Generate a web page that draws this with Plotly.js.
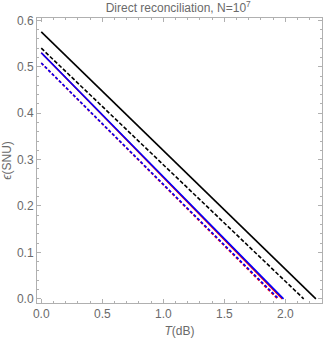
<!DOCTYPE html>
<html><head><meta charset="utf-8">
<script src="https://cdn.plot.ly/plotly-3.0.1.min.js"></script>
<style>html,body{margin:0;padding:0;background:#fff}</style>
</head><body>
<div id="plot" style="width:324px;height:338px"></div>
<script>
// T (dB) values and epsilon (SNU) for each curve
const tBlackSolid = [0, 2.25];
const eBlackSolid = [0.575, 0];
const tBlackDash = [0, 2.15];
const eBlackDash = [0.540, 0];
const tBlueSolid = [0, 1.985];
const eBlueSolid = [0.530, 0];
const tRedSolid = [0, 1.975];
const eRedSolid = [0.530, 0];
const tBlueDash = [0, 1.945];
const eBlueDash = [0.508, 0];
const tRedDash = [0, 1.935];
const eRedDash = [0.508, 0];

const xTicks = [0, 0.5, 1.0, 1.5, 2.0];
const xTickText = ["0.0", "0.5", "1.0", "1.5", "2.0"];
const yTicks = [0, 0.1, 0.2, 0.3, 0.4, 0.5, 0.6];
const yTickText = ["0.0", "0.1", "0.2", "0.3", "0.4", "0.5", "0.6"];

function tr(x, y, color, dash) {
  return {x: x, y: y, type: 'scatter', mode: 'lines',
    line: {color: color, width: 1.6, dash: dash}, hoverinfo: 'skip', showlegend: false};
}
const data = [
  tr(tRedSolid, eRedSolid, '#ff0000', 'solid'),
  tr(tBlueSolid, eBlueSolid, '#0000ff', 'solid'),
  tr(tRedDash, eRedDash, '#ff0000', '3px,2px'),
  tr(tBlueDash, eBlueDash, '#0000ff', '3px,2px'),
  tr(tBlackDash, eBlackDash, '#000000', '4px,2px'),
  tr(tBlackSolid, eBlackSolid, '#000000', 'solid')
];
const FONT = 'Liberation Sans, Arial, sans-serif';
const axisCommon = {
  showgrid: false, zeroline: false, showline: true, mirror: 'ticks',
  linecolor: '#b0b0b0', linewidth: 1, ticks: 'inside', ticklen: 4,
  tickcolor: '#b0b0b0', tickwidth: 1,
  tickfont: {family: FONT, size: 12, color: '#6a6a6a'}
};
const layout = {
  width: 324, height: 338,
  margin: {l: 37, r: 2, t: 18, b: 35},
  paper_bgcolor: '#fff', plot_bgcolor: '#fff',
  title: {text: 'Direct reconciliation, N=10<sup>7</sup>', x: 0.55, xanchor: 'center', y: 0.99, yanchor: 'top',
    font: {family: FONT, size: 12, color: '#6a6a6a'}},
  xaxis: Object.assign({}, axisCommon, {
    range: [-0.035, 2.3], tickvals: xTicks, ticktext: xTickText,
    minor: {ticks: 'inside', dtick: 0.1, tick0: 0, ticklen: 2, tickcolor: '#b0b0b0'},
    title: {text: '<i>T</i>(dB)', standoff: 6, font: {family: FONT, size: 12, color: '#6a6a6a'}}
  }),
  yaxis: Object.assign({}, axisCommon, {
    range: [-0.009, 0.605], tickvals: yTicks, ticktext: yTickText,
    minor: {ticks: 'inside', dtick: 0.02, tick0: 0, ticklen: 2, tickcolor: '#b0b0b0'},
    title: {text: '<i>ϵ</i>(SNU)', standoff: 4, font: {family: FONT, size: 12, color: '#6a6a6a'}}
  })
};
Plotly.newPlot('plot', data, layout, {staticPlot: true, displayModeBar: false});
</script>
</body></html>
